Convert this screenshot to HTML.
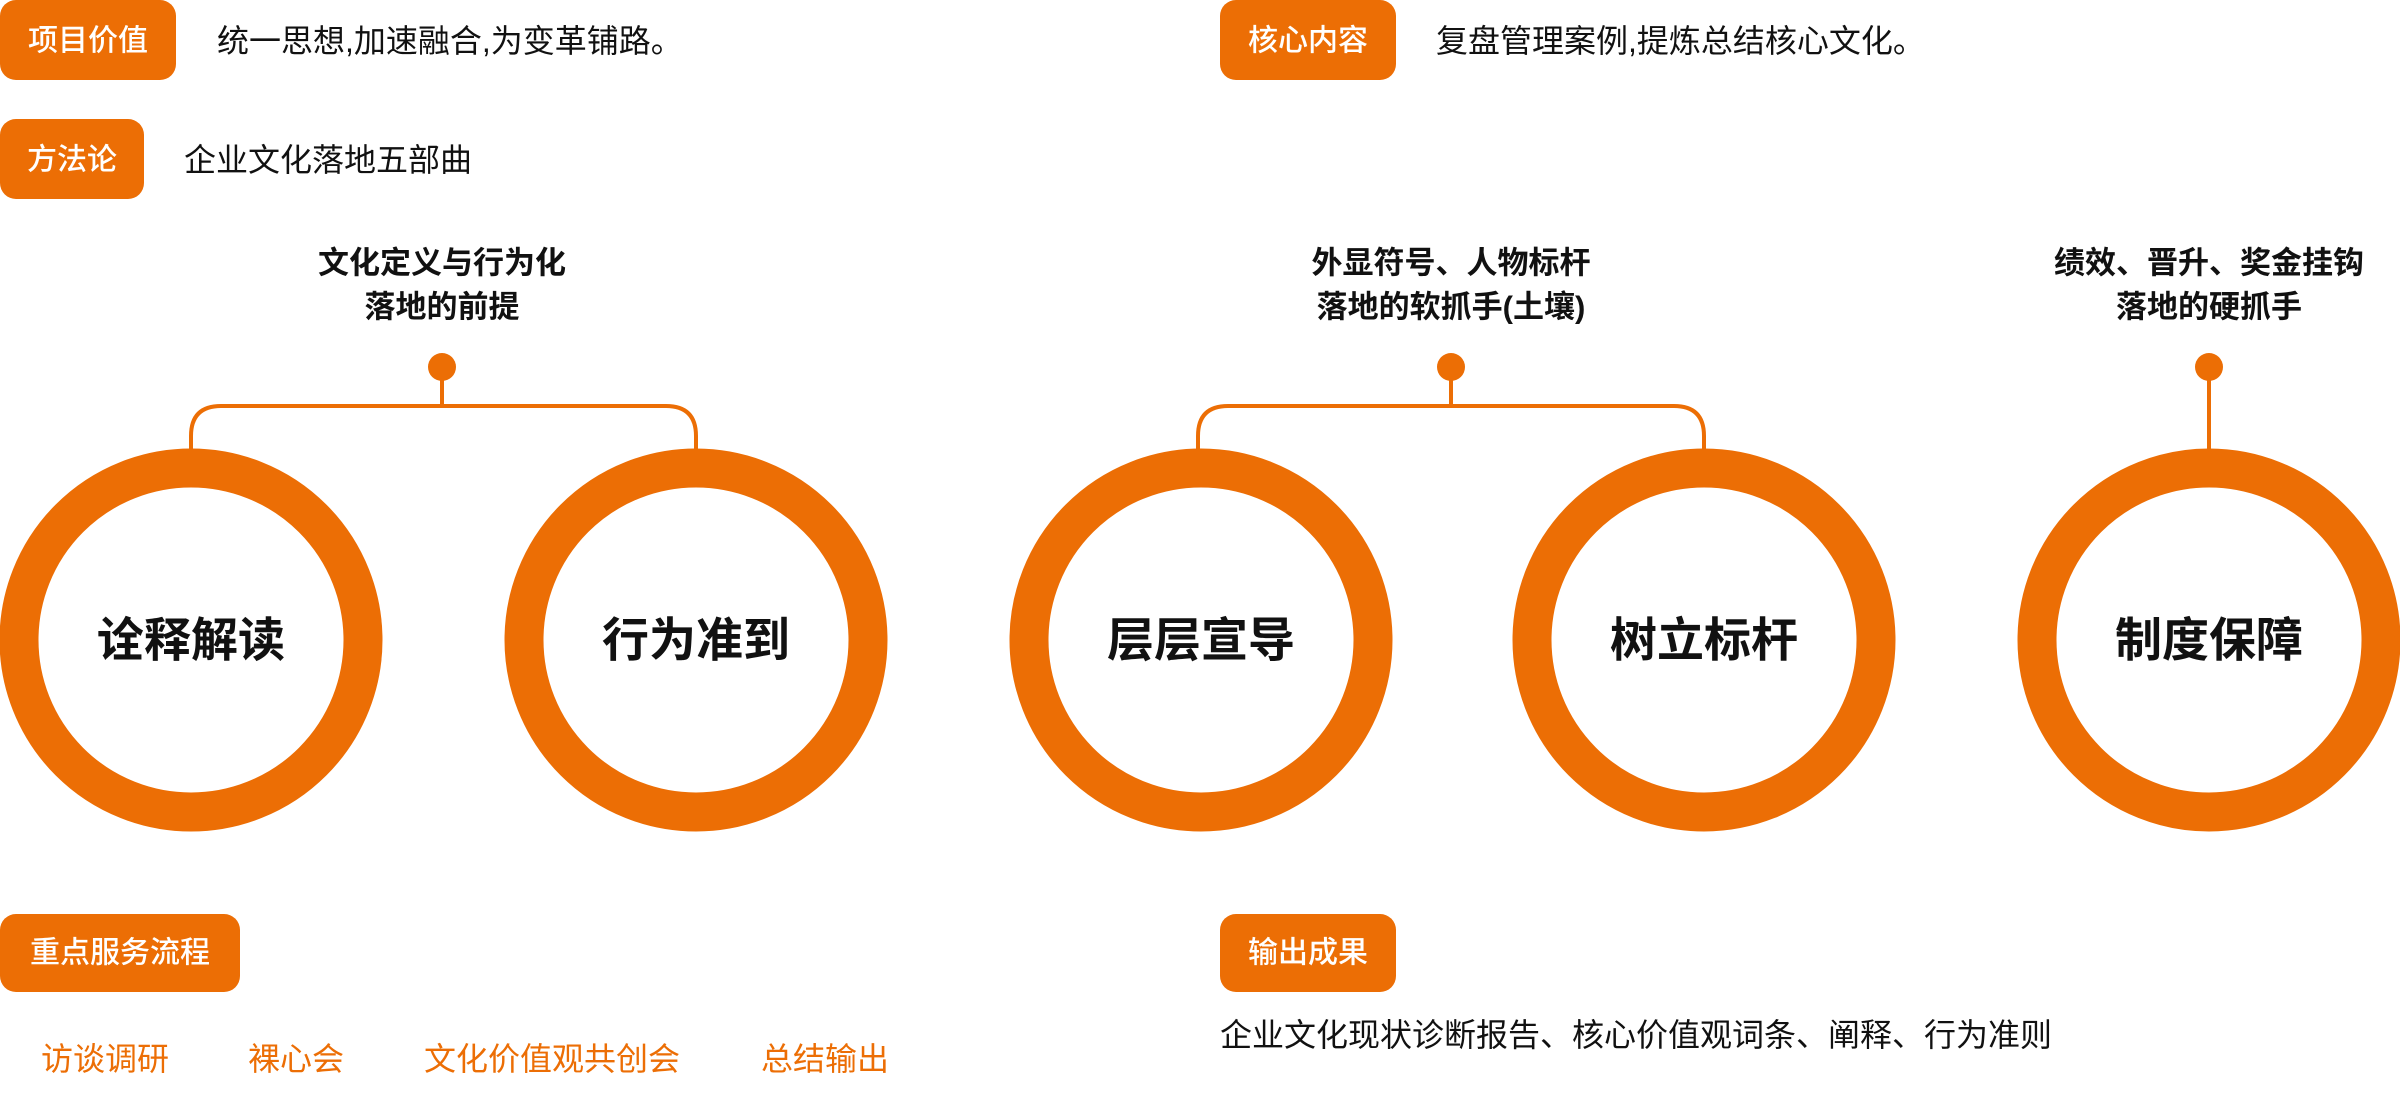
<!DOCTYPE html>
<html><head><meta charset="utf-8"><style>
html,body{margin:0;padding:0;background:#fff;}
svg{display:block}
text{font-family:"Liberation Sans","Noto Sans CJK SC",sans-serif;}
</style></head><body>
<svg width="2400" height="1106" viewBox="0 0 2400 1106" xmlns="http://www.w3.org/2000/svg">
<g fill="#EC6E05">
<rect x="0" y="0" width="176" height="80" rx="16"/>
<rect x="1220" y="0" width="176" height="80" rx="16"/>
<rect x="0" y="119" width="144" height="80" rx="16"/>
<rect x="0" y="914" width="240" height="78" rx="16"/>
<rect x="1220" y="914" width="176" height="78" rx="16"/>
</g>
<g fill="#fff" font-size="30" font-weight="500" dominant-baseline="central">
<text x="88" y="41" text-anchor="middle">项目价值</text>
<text x="1308" y="41" text-anchor="middle">核心内容</text>
<text x="72" y="160" text-anchor="middle">方法论</text>
<text x="120" y="953" text-anchor="middle">重点服务流程</text>
<text x="1308" y="953" text-anchor="middle">输出成果</text>
</g>
<g fill="#111" font-size="32" dominant-baseline="central">
<text x="217" y="41">统一思想,加速融合,为变革铺路。</text>
<text x="1436" y="41">复盘管理案例,提炼总结核心文化。</text>
<text x="184" y="160">企业文化落地五部曲</text>
<text x="1220" y="1035">企业文化现状诊断报告、核心价值观词条、阐释、行为准则</text>
</g>
<g fill="#EC6E05" font-size="32" dominant-baseline="central">
<text x="41" y="1059">访谈调研</text>
<text x="248" y="1059">裸心会</text>
<text x="424" y="1059">文化价值观共创会</text>
<text x="761" y="1059">总结输出</text>
</g>
<g fill="#111" font-size="31" font-weight="bold" text-anchor="middle" dominant-baseline="central">
<text x="442" y="263">文化定义与行为化</text>
<text x="442" y="307">落地的前提</text>
<text x="1451" y="263">外显符号、人物标杆</text>
<text x="1451" y="307">落地的软抓手(土壤)</text>
<text x="2209" y="263">绩效、晋升、奖金挂钩</text>
<text x="2209" y="307">落地的硬抓手</text>
</g>
<g fill="none" stroke="#EC6E05" stroke-width="4">
<path d="M191 450 V436 Q191 406 221 406 H666 Q696 406 696 436 V450"/>
<path d="M442 367 V406"/>
<path d="M1198 450 V436 Q1198 406 1228 406 H1674 Q1704 406 1704 436 V450"/>
<path d="M1451 367 V406"/>
<path d="M2209 367 V450"/>
</g>
<g fill="#EC6E05">
<circle cx="442" cy="367" r="14"/>
<circle cx="1451" cy="367" r="14"/>
<circle cx="2209" cy="367" r="14"/>
</g>
<g fill="none" stroke="#EC6E05" stroke-width="39">
<circle cx="191" cy="640" r="172"/>
<circle cx="696" cy="640" r="172"/>
<circle cx="1201" cy="640" r="172"/>
<circle cx="1704" cy="640" r="172"/>
<circle cx="2209" cy="640" r="172"/>
</g>
<g fill="#111" font-size="47" font-weight="bold" text-anchor="middle" dominant-baseline="central">
<text x="191" y="640">诠释解读</text>
<text x="696" y="640">行为准到</text>
<text x="1201" y="640">层层宣导</text>
<text x="1704" y="640">树立标杆</text>
<text x="2209" y="640">制度保障</text>
</g>
</svg>
</body></html>
